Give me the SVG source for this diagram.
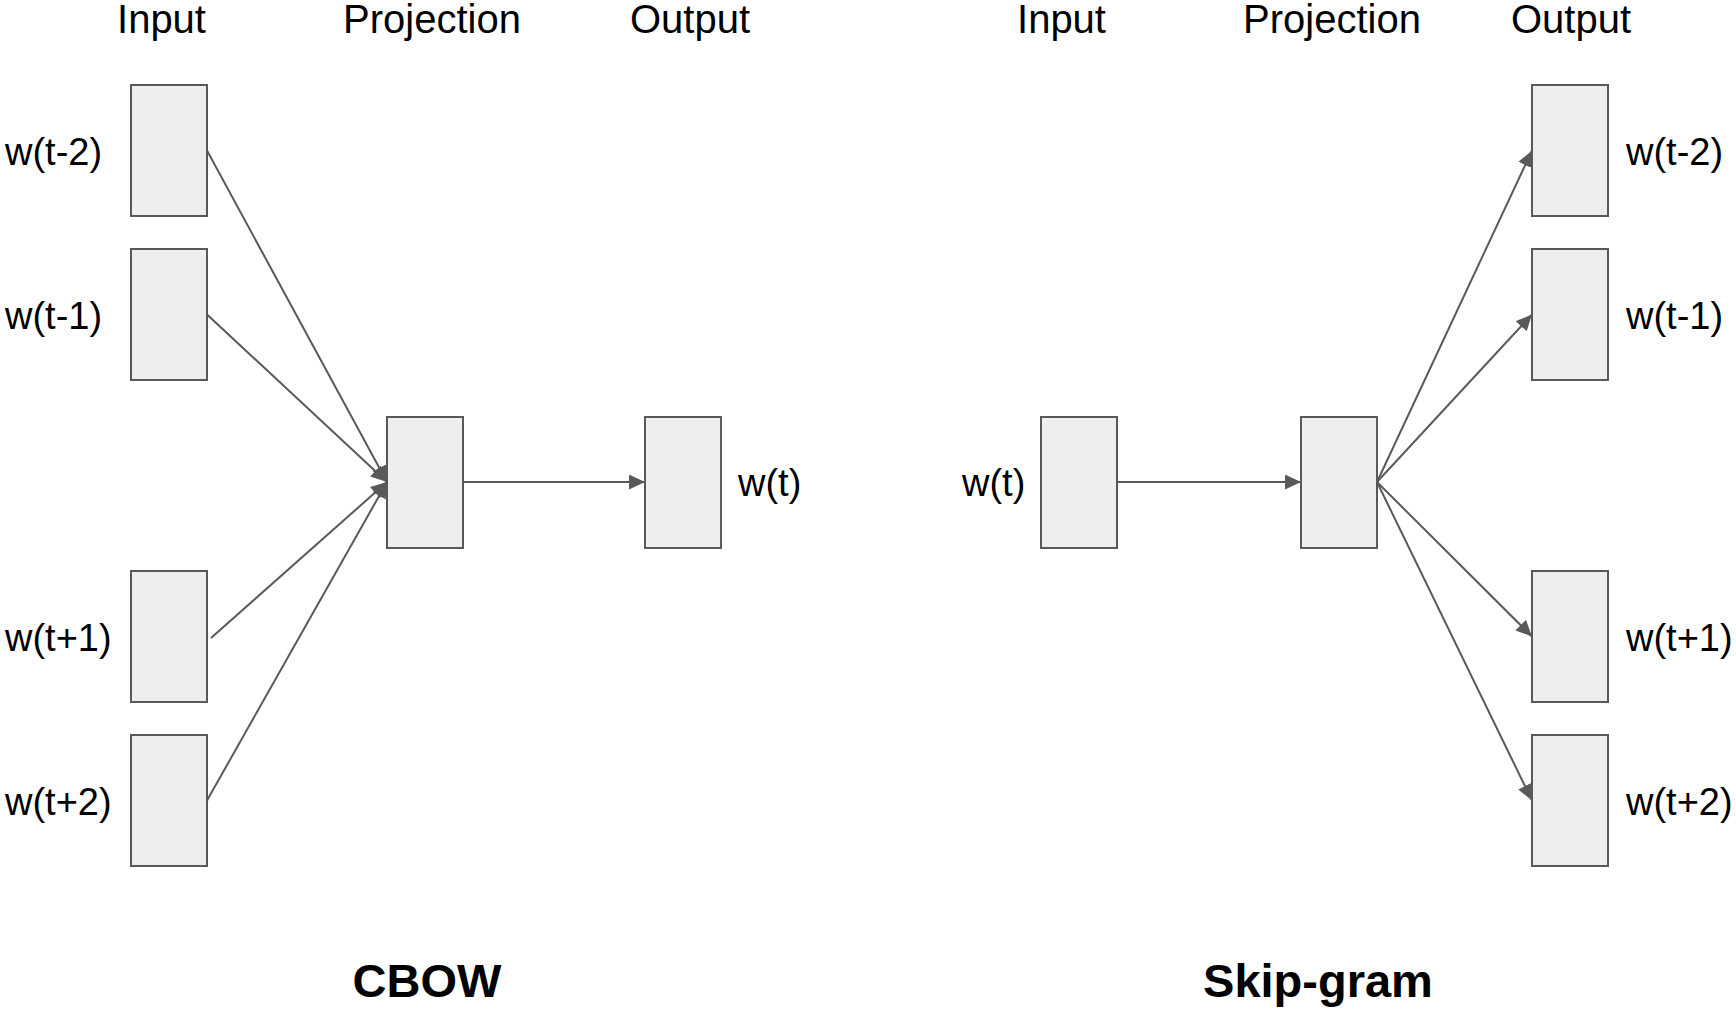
<svg xmlns="http://www.w3.org/2000/svg" width="1736" height="1014" viewBox="0 0 1736 1014">
<style>
.box{fill:#eeeeee;stroke:#595959;stroke-width:2}
.ln{stroke:#595959;stroke-width:2;fill:none}
.t{font-family:"Liberation Sans",Arial,sans-serif;font-size:38px;fill:#000}
.h{text-anchor:middle;font-size:40px}
.title{font-family:"Liberation Sans",Arial,sans-serif;font-size:47px;font-weight:bold;text-anchor:middle;fill:#000}
</style>
<defs>
<marker id="arr" markerUnits="userSpaceOnUse" markerWidth="17" markerHeight="16" refX="16" refY="7.5" orient="auto">
<path d="M0,0 L16,7.5 L0,15 z" fill="#595959"/>
</marker>
</defs>
<rect width="1736" height="1014" fill="#ffffff"/>
<g id="headers">
<text class="t h" x="161.5" y="33">Input</text>
<text class="t h" x="432" y="33">Projection</text>
<text class="t h" x="690" y="33">Output</text>
<text class="t h" x="1061.5" y="33">Input</text>
<text class="t h" x="1332" y="33">Projection</text>
<text class="t h" x="1571" y="33">Output</text>
</g>
<g id="connectors">
<line class="ln" x1="207" y1="150.5" x2="387" y2="482" marker-end="url(#arr)"/>
<line class="ln" x1="207" y1="314.5" x2="387" y2="482" marker-end="url(#arr)"/>
<line class="ln" x1="211" y1="638" x2="387" y2="482" marker-end="url(#arr)"/>
<line class="ln" x1="207" y1="800.5" x2="387" y2="482" marker-end="url(#arr)"/>
<line class="ln" x1="463" y1="482" x2="645" y2="482" marker-end="url(#arr)"/>
<line class="ln" x1="1117" y1="482" x2="1301" y2="482" marker-end="url(#arr)"/>
<line class="ln" x1="1377" y1="482" x2="1532" y2="150.5" marker-end="url(#arr)"/>
<line class="ln" x1="1377" y1="482" x2="1532" y2="314.5" marker-end="url(#arr)"/>
<line class="ln" x1="1377" y1="482" x2="1532" y2="636.5" marker-end="url(#arr)"/>
<line class="ln" x1="1377" y1="482" x2="1532" y2="800.5" marker-end="url(#arr)"/>
</g>
<g id="cbow-in-t-2"><rect class="box" x="131" y="85" width="76" height="131"/><text class="t" x="5" y="165">w(t-2)</text></g>
<g id="cbow-in-t-1"><rect class="box" x="131" y="249" width="76" height="131"/><text class="t" x="5" y="329">w(t-1)</text></g>
<g id="cbow-in-t+1"><rect class="box" x="131" y="571" width="76" height="131"/><text class="t" x="5" y="651">w(t+1)</text></g>
<g id="cbow-in-t+2"><rect class="box" x="131" y="735" width="76" height="131"/><text class="t" x="5" y="815">w(t+2)</text></g>
<g id="cbow-proj"><rect class="box" x="387" y="417" width="76" height="131"/></g>
<g id="cbow-out"><rect class="box" x="645" y="417" width="76" height="131"/><text class="t" x="738" y="496">w(t)</text></g>
<g id="sg-in"><rect class="box" x="1041" y="417" width="76" height="131"/><text class="t" x="962" y="496">w(t)</text></g>
<g id="sg-proj"><rect class="box" x="1301" y="417" width="76" height="131"/></g>
<g id="sg-out-t-2"><rect class="box" x="1532" y="85" width="76" height="131"/><text class="t" x="1626" y="165">w(t-2)</text></g>
<g id="sg-out-t-1"><rect class="box" x="1532" y="249" width="76" height="131"/><text class="t" x="1626" y="329">w(t-1)</text></g>
<g id="sg-out-t+1"><rect class="box" x="1532" y="571" width="76" height="131"/><text class="t" x="1626" y="651">w(t+1)</text></g>
<g id="sg-out-t+2"><rect class="box" x="1532" y="735" width="76" height="131"/><text class="t" x="1626" y="815">w(t+2)</text></g>
<g id="titles">
<text class="title" x="427" y="997">CBOW</text>
<text class="title" x="1318" y="997">Skip-gram</text>
</g>
</svg>
